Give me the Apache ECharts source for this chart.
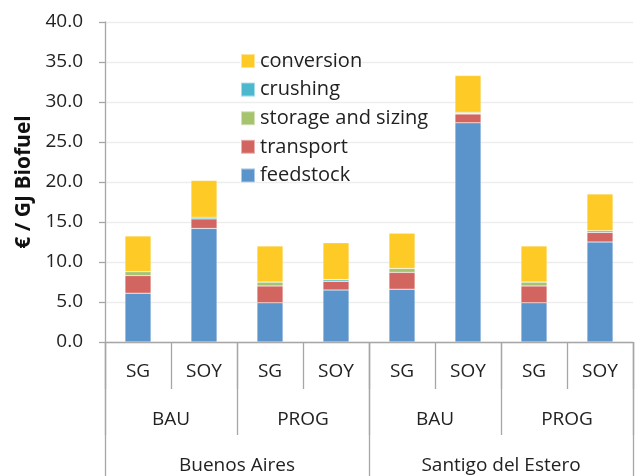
<!DOCTYPE html>
<html>
<head>
<meta charset="utf-8">
<script src="https://cdn.jsdelivr.net/npm/echarts@6/dist/echarts.min.js"></script>
<style>
html,body{margin:0;padding:0;background:#fff;}
#main{width:635px;height:476px;}
</style>
</head>
<body>
<div id="main"></div>
<script>
// 数据
var crops = ['SG','SOY','SG','SOY','SG','SOY','SG','SOY'];
var scenarios = ['BAU','PROG','BAU','PROG'];
var regions = ['Buenos Aires','Santigo del Estero'];
var yTicks = [0,5,10,15,20,25,30,35,40];

var feedstock = [6.1, 14.2, 4.9, 6.5, 6.6, 27.4, 4.9, 12.5];
var transport = [2.2, 1.2, 2.1, 1.1, 2.1, 1.1, 2.1, 1.2];
var storage   = [0.5, 0, 0.5, 0, 0.5, 0.1, 0.5, 0];
var crushing  = [0, 0.2, 0, 0.2, 0, 0.1, 0, 0.2];
var conversion= [4.45, 4.6, 4.5, 4.6, 4.4, 4.6, 4.5, 4.6];

var names = ['feedstock','transport','storage and sizing','crushing','conversion'];
var colors = ['#5B93CB','#D2655F','#A6C46E','#4BB8CE','#FECA26'];
var values = [feedstock, transport, storage, crushing, conversion];

var font = '"Open Sans", sans-serif';
var lineCol = '#A6A6A6';

var myChart = echarts.init(document.getElementById('main'));

var series = [];
for (var i = 0; i < names.length; i++) {
	series.push({
		name: names[i],
		type: 'bar',
		stack: 'cost',
		barWidth: 26,
		data: values[i],
		itemStyle: { color: colors[i], borderColor: 'rgba(255,255,255,0.5)', borderWidth: 0.5 }
	});
}

// 三层类目轴
function catAxis(data, tickLen, margin, showLine){
	return {
		type: 'category',
		data: data,
		position: 'bottom',
		axisLine: { show: showLine, onZero: false, lineStyle: { color: lineCol, width: 1.3 } },
		axisTick: { show: true, alignWithLabel: false, interval: 0, length: tickLen, lineStyle: { color: lineCol, width: 1.3 } },
		axisLabel: { show: true, interval: 0, margin: margin, fontFamily: font, fontSize: 19, color: '#222' },
		splitLine: { show: false }
	};
}

var option = {
	animation: false,
	color: colors,
	grid: { left: 105, right: 2, top: 22, bottom: 134 },
	legend: {
		orient: 'vertical',
		left: 240,
		top: 51,
		padding: 0,
		itemWidth: 14,
		itemHeight: 14,
		itemGap: 8.6,
		icon: 'rect',
		data: ['conversion','crushing','storage and sizing','transport','feedstock'],
		textStyle: { fontFamily: font, fontSize: 20, color: '#222' }
	},
	xAxis: [
		catAxis(crops, 47, 20, true),
		catAxis(scenarios, 93, 68, false),
		catAxis(regions, 140, 114, false)
	],
	yAxis: {
		type: 'value',
		min: yTicks[0],
		max: yTicks[yTicks.length - 1],
		interval: 5,
		name: '€ / GJ Biofuel',
		nameLocation: 'middle',
		nameRotate: 90,
		nameGap: 70,
		nameTextStyle: { fontFamily: font, fontSize: 21, fontWeight: 'bold', color: '#111' },
		axisLine: { show: true, onZero: false, lineStyle: { color: lineCol, width: 1.3 } },
		axisTick: { show: true, length: 6, lineStyle: { color: lineCol, width: 1.3 } },
		splitLine: { show: true, lineStyle: { color: '#EDEDED', width: 1.3 } },
		axisLabel: { margin: 22, fontFamily: font, fontSize: 19, color: '#222',
			formatter: function(v){ return v.toFixed(1); } }
	},
	series: series
};
myChart.setOption(option);
</script>
</body>
</html>
